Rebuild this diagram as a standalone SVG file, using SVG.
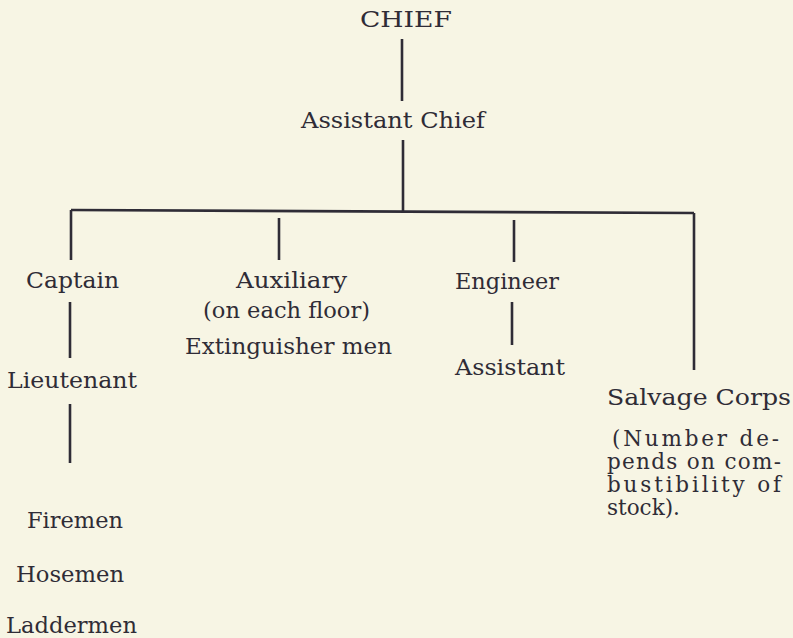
<svg xmlns="http://www.w3.org/2000/svg" width="793" height="638" viewBox="0 0 793 638">
<style>
.bg{fill:#f7f5e4}
text{font-family:"DejaVu Serif","Liberation Serif",serif;fill:#2f2c36;font-size:22px}
.p{font-size:21.5px}
.c{stroke:#2f2c36;stroke-width:2.6;fill:none}
</style>
<rect class="bg" x="0" y="0" width="793" height="638"/>
<g id="connectors">
<line class="c" x1="402" y1="39" x2="402" y2="101"/>
<line class="c" x1="403" y1="140" x2="403" y2="211"/>
<line class="c" x1="71" y1="210" x2="694" y2="213"/>
<line class="c" x1="71" y1="210" x2="71" y2="260"/>
<line class="c" x1="279" y1="218" x2="279" y2="260"/>
<line class="c" x1="514" y1="220" x2="514" y2="262"/>
<line class="c" x1="694" y1="213" x2="694" y2="370"/>
<line class="c" x1="70" y1="302" x2="70" y2="358"/>
<line class="c" x1="70" y1="404" x2="70" y2="463"/>
<line class="c" x1="512" y1="302" x2="512" y2="345"/>
</g>
<g id="chief"><text x="360" y="27" font-size="26" textLength="92" lengthAdjust="spacingAndGlyphs">CHIEF</text></g>
<g id="assistant-chief"><text x="301" y="128" font-size="24" textLength="184" lengthAdjust="spacingAndGlyphs">Assistant Chief</text></g>
<g id="captain"><text x="26" y="288" textLength="93" lengthAdjust="spacingAndGlyphs">Captain</text></g>
<g id="lieutenant"><text x="7" y="388" textLength="130" lengthAdjust="spacingAndGlyphs">Lieutenant</text></g>
<g id="men">
<text x="27" y="528" textLength="96" lengthAdjust="spacingAndGlyphs">Firemen</text>
<text x="16" y="582" textLength="108" lengthAdjust="spacingAndGlyphs">Hosemen</text>
<text x="6" y="633" textLength="131" lengthAdjust="spacingAndGlyphs">Laddermen</text>
</g>
<g id="auxiliary">
<text x="236" y="288" textLength="111" lengthAdjust="spacingAndGlyphs">Auxiliary</text>
<text x="203" y="318" textLength="167" lengthAdjust="spacingAndGlyphs">(on each floor)</text>
<text x="185" y="354" textLength="207" lengthAdjust="spacingAndGlyphs">Extinguisher men</text>
</g>
<g id="engineer"><text x="455" y="289" textLength="104" lengthAdjust="spacingAndGlyphs">Engineer</text></g>
<g id="assistant"><text x="455" y="375" textLength="110" lengthAdjust="spacingAndGlyphs">Assistant</text></g>
<g id="salvage-corps">
<text x="607" y="405" textLength="184" lengthAdjust="spacingAndGlyphs">Salvage Corps</text>
<text class="p" x="612" y="446" textLength="167" lengthAdjust="spacing">(Number de-</text>
<text class="p" x="607" y="469" textLength="174" lengthAdjust="spacing">pends on com-</text>
<text class="p" x="607" y="492" textLength="174" lengthAdjust="spacing">bustibility  of</text>
<text class="p" x="607" y="515">stock).</text>
</g>
</svg>
